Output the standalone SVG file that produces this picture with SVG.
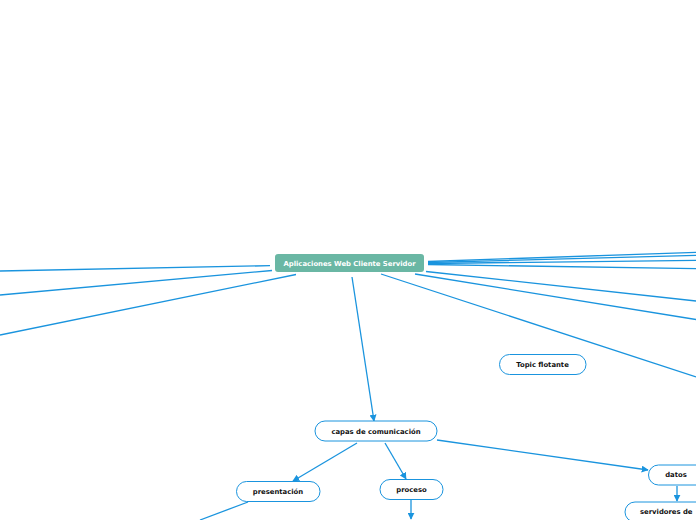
<svg xmlns="http://www.w3.org/2000/svg" width="696" height="520" viewBox="0 0 696 520">
<style>
.c{stroke:#1a94de;stroke-width:1.3;fill:none}
.n{fill:#ffffff;stroke:#1a94de;stroke-width:1}
.t{font-family:"DejaVu Sans",Verdana,sans-serif;font-weight:bold;font-size:6.85px;fill:#111;text-anchor:middle;dominant-baseline:central}
</style>
<defs>
<marker id="a" viewBox="0 0 10 10" refX="9" refY="5" markerWidth="7" markerHeight="7" orient="auto" markerUnits="userSpaceOnUse">
<path d="M0,0L10,5L0,10z" fill="#1a94de"/>
</marker>
</defs>
<rect width="696" height="520" fill="#ffffff"/>
<g id="connectors">
<line class="c" x1="270" y1="265.7" x2="0" y2="271"/>
<line class="c" x1="272" y1="270.5" x2="0" y2="295"/>
<line class="c" x1="296" y1="274.5" x2="0" y2="335"/>
<line class="c" x1="428" y1="261.5" x2="696" y2="252.3"/>
<line class="c" x1="428" y1="262.5" x2="696" y2="255.3"/>
<line class="c" x1="428" y1="263.5" x2="696" y2="260.3"/>
<line class="c" x1="428" y1="264.5" x2="696" y2="268.7"/>
<line class="c" x1="426" y1="271.5" x2="696" y2="301"/>
<line class="c" x1="415" y1="274" x2="696" y2="319.5"/>
<line class="c" x1="381" y1="274" x2="696" y2="377"/>
<line class="c" x1="352" y1="277" x2="374" y2="421" marker-end="url(#a)"/>
<line class="c" x1="357" y1="443" x2="293" y2="481" marker-end="url(#a)"/>
<line class="c" x1="385" y1="443" x2="406" y2="479" marker-end="url(#a)"/>
<line class="c" x1="437" y1="440" x2="648" y2="470" marker-end="url(#a)"/>
<line class="c" x1="248" y1="502" x2="200" y2="520"/>
<line class="c" x1="411" y1="500" x2="411" y2="519" marker-end="url(#a)"/>
<line class="c" x1="677" y1="486" x2="677" y2="501" marker-end="url(#a)"/>
</g>
<g id="central">
<rect x="275" y="254" width="149" height="18" rx="3" fill="#6ab7a4"/>
<text class="t" x="349.5" y="263.5" style="fill:#ffffff">Aplicaciones Web Cliente Servidor</text>
</g>
<g id="capas">
<rect class="n" x="315" y="421" width="122" height="20" rx="10"/>
<text class="t" x="376" y="431.5">capas de comunicación</text>
</g>
<g id="presentacion">
<rect class="n" x="236.5" y="481.5" width="83.5" height="20" rx="10"/>
<text class="t" x="278" y="491.5">presentación</text>
</g>
<g id="proceso">
<rect class="n" x="380" y="479.5" width="63" height="20" rx="10"/>
<text class="t" x="411.5" y="489.5">proceso</text>
</g>
<g id="datos">
<rect class="n" x="648.5" y="465" width="58" height="20" rx="10"/>
<text class="t" x="676" y="475">datos</text>
</g>
<g id="servidores">
<rect class="n" x="625" y="502" width="90" height="20" rx="10"/>
<text class="t" x="640" y="512" style="text-anchor:start">servidores de</text>
</g>
<g id="topic">
<rect class="n" x="499.5" y="354.5" width="86.5" height="20" rx="10"/>
<text class="t" x="542.5" y="364.5">Topic flotante</text>
</g>
</svg>
